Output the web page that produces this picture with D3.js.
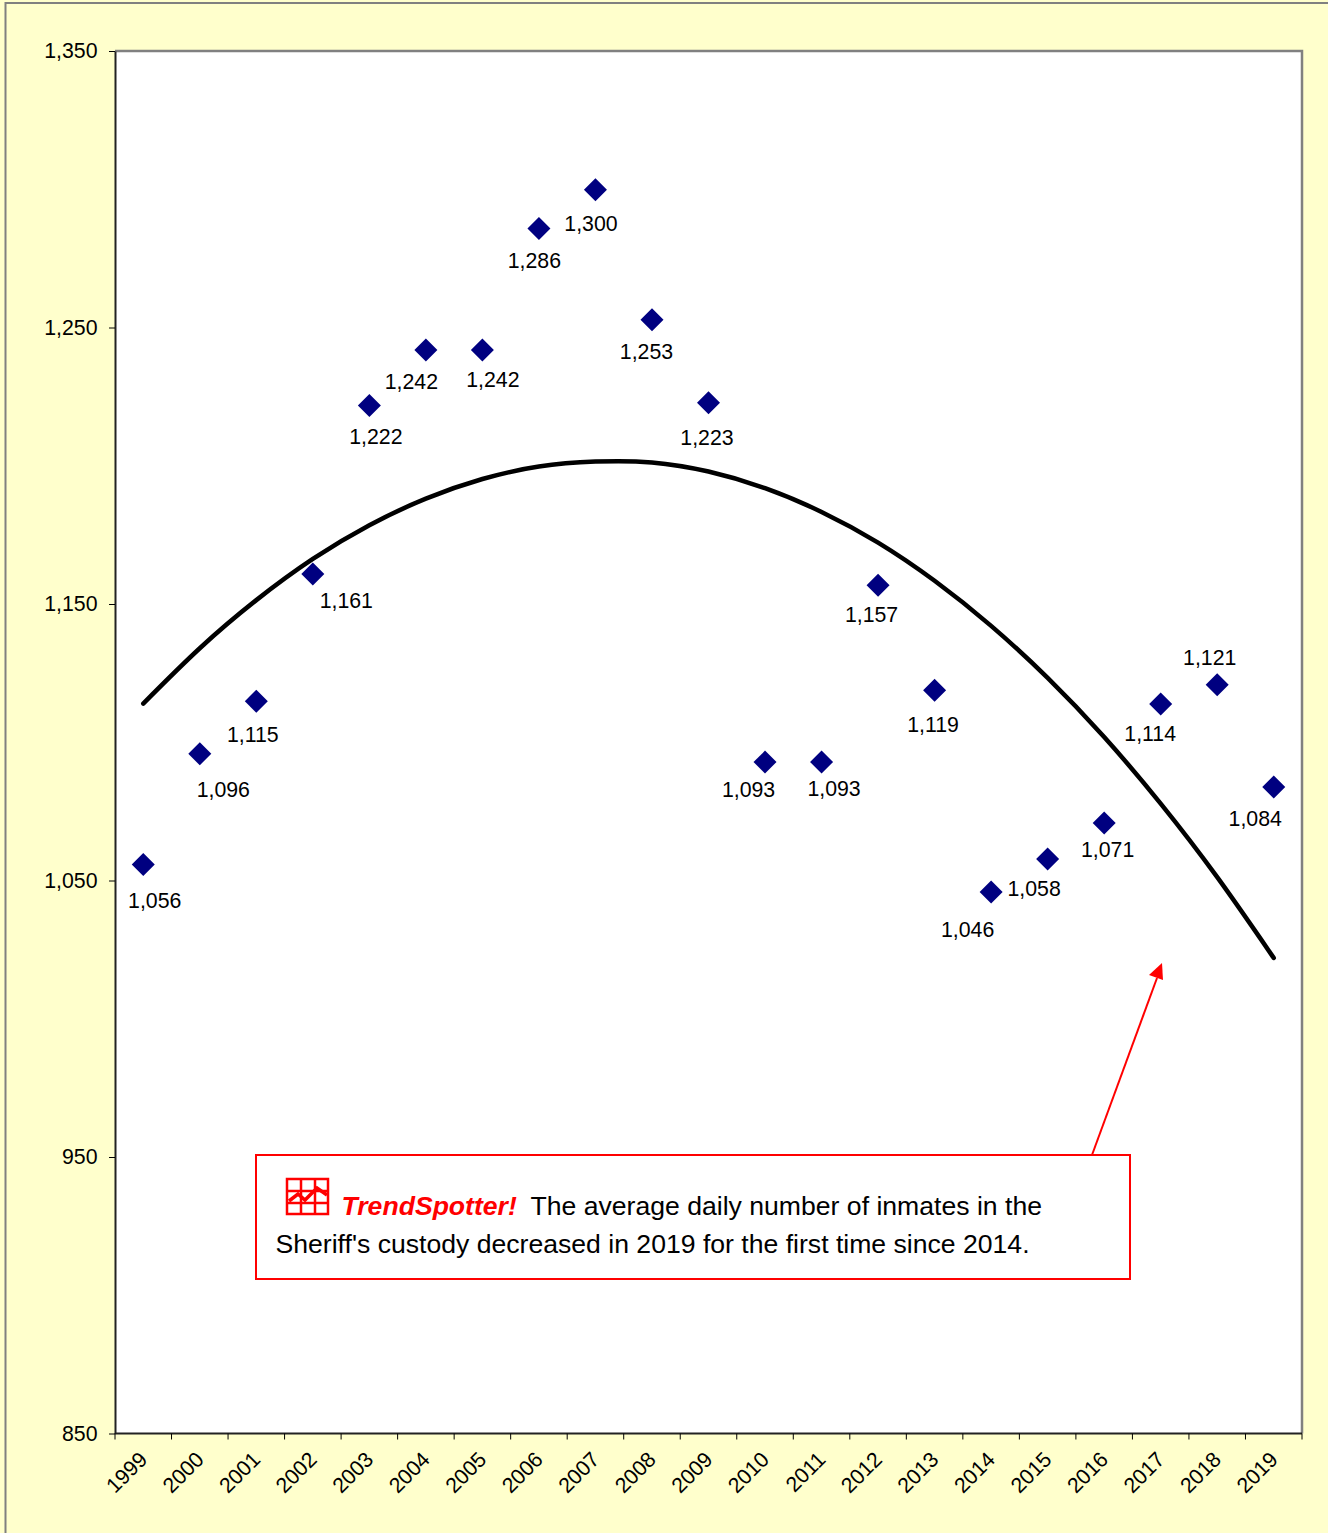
<!DOCTYPE html>
<html><head><meta charset="utf-8"><script src="https://cdn.jsdelivr.net/npm/d3@7"></script>
<style>html,body{margin:0;padding:0;background:#FFFFCC}svg{display:block}text{font-family:"Liberation Sans",Arial,sans-serif}</style>
</head><body><svg id="c" width="1328" height="1533"></svg>
<script>
const years=["1999","2000","2001","2002","2003","2004","2005","2006","2007","2008","2009","2010","2011","2012","2013","2014","2015","2016","2017","2018","2019"];
const inmates=[1056,1096,1115,1161,1222,1242,1242,1286,1300,1253,1223,1093,1093,1157,1119,1046,1058,1071,1114,1121,1084];
const trend=[1114,1134,1151.4,1166.3,1178.5,1188.1,1195.2,1199.7,1201.5,1201.2,1197.9,1191.9,1183.3,1172.2,1158.4,1142.1,1123.3,1101.9,1077.8,1051.2,1022];
const yTicks=[850,950,1050,1150,1250,1350];
const labelDx=[11.5,23.5,-3.5,33.5,6.5,-14.5,10.5,-4.5,-4.5,-5.5,-1.5,-16.5,12.5,-6.5,-1.5,-23.5,-13.5,3.5,-10.5,-7.5,-18.5];
const labelDy=[36.5,36,34,27,32,32,30,33,34,32,35,28,27,30,35,38,30,27,30,-27,32];
const svg=d3.select("#c");
const L=115,R=1302,T=51,B=1433.5;
svg.append("rect").attr("x",5.5).attr("y",3).attr("width",1330).attr("height",1540).attr("fill","#FFFFCC").attr("stroke","#808080").attr("stroke-width",2);
const x=d3.scaleBand().domain(years).range([L,R]);
const y=d3.scaleLinear().domain([850,1350]).range([B,T]);
const cx=d=>x(d)+x.bandwidth()/2;
svg.append("rect").attr("x",L).attr("y",T).attr("width",R-L).attr("height",B-T).attr("fill","#fff");
svg.append("path").attr("d",`M${L},${T}H${R}V${B}`).attr("fill","none").attr("stroke","#808080").attr("stroke-width",2.5);
const ya=svg.append("g").attr("transform",`translate(${L},0)`).call(d3.axisLeft(y).tickValues(yTicks).tickFormat(d3.format(",")).tickSize(6).tickSizeOuter(0));
ya.selectAll("text").attr("font-size",21.3).attr("fill","#000").attr("x",-17.5).attr("dy","0.32em").style("font-family",'"Liberation Sans"');
ya.select(".domain").attr("stroke","#222").attr("stroke-width",2);
const edges=x.domain().map(d=>x(d)).concat([R]);
const xg=svg.append("g");
xg.append("path").attr("d",`M${L},${B}H${R}`).attr("stroke","#222").attr("stroke-width",2);
xg.selectAll("line").data(edges).join("line").attr("x1",d=>d).attr("x2",d=>d).attr("y1",B).attr("y2",B+6).attr("stroke","#000").attr("stroke-width",1);
xg.selectAll("text").data(years).join("text").text(d=>d)
 .attr("transform",d=>`translate(${cx(d)},${B+22}) rotate(-45)`).attr("text-anchor","end").attr("dy","0.35em").attr("font-size",21.3).attr("fill","#000");
svg.append("path").datum(trend).attr("fill","none").attr("stroke","#000").attr("stroke-width",4.5).attr("stroke-linecap","round")
 .attr("d",d3.line().x((d,i)=>cx(years[i])).y(d=>y(d)).curve(d3.curveNatural));
svg.selectAll("path.m").data(inmates).join("path").attr("class","m")
 .attr("transform",(d,i)=>`translate(${cx(years[i])},${y(d)+0.5})`).attr("d","M0,-11.5L11.5,0L0,11.5L-11.5,0Z").attr("fill","#000080");
svg.selectAll("text.l").data(inmates).join("text").attr("class","l").text(d3.format(","))
 .attr("x",(d,i)=>cx(years[i])+labelDx[i]).attr("y",(d,i)=>y(d)+labelDy[i]).attr("dy","0.35em").attr("text-anchor","middle").attr("font-size",21.3).attr("fill","#000");
svg.append("line").attr("x1",1092).attr("y1",1155).attr("x2",1157).attr("y2",978).attr("stroke","#f00").attr("stroke-width",2);
svg.append("path").attr("d","M1162,963L1149,975L1163,980Z").attr("fill","#f00");
svg.append("rect").attr("x",256).attr("y",1155).attr("width",874).attr("height",124).attr("fill","#fff").attr("stroke","#f00").attr("stroke-width",2);
const ic=svg.append("g").attr("stroke","#f00").attr("fill","none").attr("stroke-width",2.5);
ic.append("rect").attr("x",287).attr("y",1179).attr("width",41).attr("height",35);
ic.append("path").attr("d","M301,1179V1214M315,1179V1214M287,1191H328M287,1203H328");
ic.append("path").attr("d","M289,1201L298,1194L305,1200L317,1188L327,1195").attr("stroke-width",3.5);
const t1=svg.append("text").attr("x",341.5).attr("y",1215).attr("font-size",26.6).attr("fill","#000");
t1.append("tspan").text("TrendSpotter!").attr("font-weight","bold").attr("font-style","italic").attr("fill","#f00");
t1.append("tspan").text("The average daily number of inmates in the").attr("x",530.5);
svg.append("text").attr("x",275.5).attr("y",1253).attr("font-size",26.6).attr("fill","#000").text("Sheriff's custody decreased in 2019 for the first time since 2014.");
</script></body></html>
